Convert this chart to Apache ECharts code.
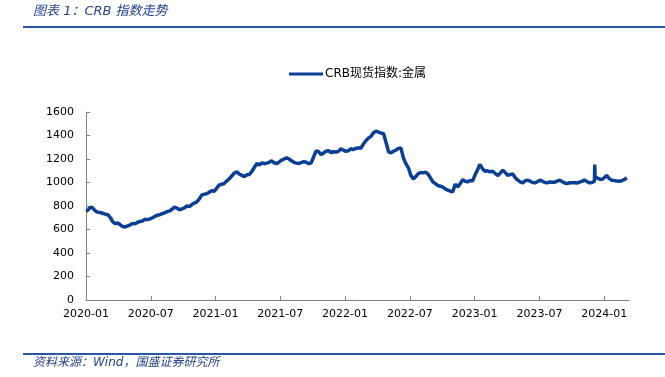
<!DOCTYPE html>
<html>
<head>
<meta charset="utf-8">
<script src="https://cdn.jsdelivr.net/npm/echarts@6/dist/echarts.min.js"></script>
<style>
  html, body { margin: 0; padding: 0; background: #fff; }
  #chart { width: 665px; height: 377px; }
</style>
</head>
<body>
<div id="chart"></div>
<script>
// CRB现货指数:金属, weekly readings
var dates = [
  "2020-01-02","2020-01-08","2020-01-14","2020-01-20","2020-01-27","2020-02-03","2020-02-10","2020-02-17","2020-02-24",
  "2020-03-02","2020-03-09","2020-03-16","2020-03-23","2020-03-30","2020-04-06","2020-04-13","2020-04-20","2020-04-27",
  "2020-05-04","2020-05-11","2020-05-18","2020-05-25","2020-06-01","2020-06-08","2020-06-15","2020-06-22","2020-06-29",
  "2020-07-06","2020-07-13","2020-07-20","2020-07-27","2020-08-03","2020-08-10","2020-08-17","2020-08-24","2020-08-31",
  "2020-09-07","2020-09-14","2020-09-21","2020-09-28","2020-10-05","2020-10-12","2020-10-19","2020-10-26","2020-11-02",
  "2020-11-09","2020-11-16","2020-11-23","2020-11-30","2020-12-07","2020-12-14","2020-12-21","2020-12-28",
  "2021-01-04","2021-01-11","2021-01-18","2021-01-25","2021-02-01","2021-02-08","2021-02-15","2021-02-22","2021-03-01",
  "2021-03-08","2021-03-15","2021-03-22","2021-03-29","2021-04-05","2021-04-12","2021-04-19","2021-04-26","2021-05-03",
  "2021-05-10","2021-05-17","2021-05-24","2021-05-31","2021-06-07","2021-06-14","2021-06-21","2021-06-28","2021-07-05",
  "2021-07-12","2021-07-19","2021-07-26","2021-08-02","2021-08-09","2021-08-16","2021-08-23","2021-08-30","2021-09-06",
  "2021-09-13","2021-09-20","2021-09-27","2021-10-04","2021-10-11","2021-10-18","2021-10-25","2021-11-01","2021-11-08",
  "2021-11-15","2021-11-22","2021-11-29","2021-12-06","2021-12-13","2021-12-20","2021-12-27",
  "2022-01-03","2022-01-10","2022-01-17","2022-01-24","2022-01-31","2022-02-07","2022-02-14","2022-02-21","2022-02-28",
  "2022-03-07","2022-03-14","2022-03-21","2022-03-28","2022-04-04","2022-04-11","2022-04-18","2022-04-25","2022-05-02",
  "2022-05-09","2022-05-16","2022-05-23","2022-05-30","2022-06-06","2022-06-13","2022-06-20","2022-06-27","2022-07-04",
  "2022-07-11","2022-07-18","2022-07-25","2022-08-01","2022-08-08","2022-08-15","2022-08-22","2022-08-29","2022-09-05",
  "2022-09-12","2022-09-19","2022-09-26","2022-10-03","2022-10-10","2022-10-17","2022-10-24","2022-10-31","2022-11-07",
  "2022-11-14","2022-11-21","2022-11-28","2022-12-05","2022-12-12","2022-12-19","2022-12-26",
  "2023-01-03","2023-01-09","2023-01-16","2023-01-23","2023-01-30","2023-02-06","2023-02-13","2023-02-20","2023-02-27",
  "2023-03-06","2023-03-13","2023-03-20","2023-03-27","2023-04-03","2023-04-10","2023-04-17","2023-04-24","2023-05-01",
  "2023-05-08","2023-05-15","2023-05-22","2023-05-29","2023-06-05","2023-06-12","2023-06-19","2023-06-26","2023-07-03",
  "2023-07-10","2023-07-17","2023-07-24","2023-07-31","2023-08-07","2023-08-14","2023-08-21","2023-08-28","2023-09-04",
  "2023-09-11","2023-09-18","2023-09-25","2023-10-02","2023-10-09","2023-10-16","2023-10-23","2023-10-30","2023-11-06",
  "2023-11-13","2023-11-20","2023-11-27","2023-12-04","2023-12-05","2023-12-06","2023-12-11","2023-12-18","2023-12-25",
  "2024-01-01","2024-01-08","2024-01-15","2024-01-22","2024-01-29","2024-02-05","2024-02-12","2024-02-19","2024-02-26",
  "2024-03-04"
];
var values = [
  755,770,790,785,760,748,745,738,730,
  725,700,665,650,655,640,625,622,630,
  640,652,648,662,668,672,688,684,690,
  700,712,722,726,735,742,752,758,772,
  790,782,768,775,785,800,795,812,825,
  835,860,895,900,905,918,930,925,
  950,978,985,990,1010,1030,1055,1082,1090,
  1070,1060,1050,1066,1068,1095,1130,1162,1150,
  1168,1160,1165,1172,1185,1168,1160,1175,1190,
  1200,1210,1200,1185,1172,1165,1162,1170,1178,
  1172,1160,1168,1220,1270,1262,1238,1250,1266,
  1270,1255,1262,1260,1265,1287,1275,
  1265,1270,1287,1280,1290,1295,1292,1330,1360,
  1380,1395,1425,1437,1428,1420,1417,1338,1260,
  1253,1266,1275,1290,1295,1210,1160,1125,1060,
  1031,1050,1075,1085,1082,1088,1072,1040,1005,
  990,974,968,960,945,935,926,920,985,
  963,990,1025,1010,1005,1018,1011,
  1070,1105,1153,1120,1096,1100,1090,1096,1075,
  1060,1080,1105,1085,1060,1068,1072,1040,1020,
  1005,997,1015,1020,1011,1000,997,1008,1020,
  1010,1000,997,1005,1003,1003,1012,1020,1008,
  995,991,998,997,1000,995,1003,1010,1020,
  1008,997,1000,1011,1153,1045,1040,1030,1025,
  1040,1060,1035,1020,1018,1012,1011,1015,1025,
  1040
];
var yTicks = { min: 0, max: 1600, step: 200 };
var seriesName = "CRB现货指数:金属";

// months since 2020-01
function monthPos(s) {
  var p = s.split("-").map(Number);
  var dim = new Date(p[0], p[1], 0).getDate();
  return (p[0] - 2020) * 12 + (p[1] - 1) + (p[2] - 1) / dim;
}
function monthLabel(v) {
  var y = 2020 + Math.floor(v / 12);
  var m = Math.round(v % 12) + 1;
  return y + "-" + (m < 10 ? "0" + m : m);
}

var points = dates.map(function (d, i) { return [monthPos(d), values[i]]; });

var chart = echarts.init(document.getElementById("chart"));
chart.setOption({
  animation: false,
  backgroundColor: "#fff",
  textStyle: { fontFamily: "DejaVu Sans, Noto Sans CJK SC" },
  graphic: [
    {
      type: "text", left: 33, top: 5,
      style: { text: "图表 1：CRB 指数走势", fill: "#24428c", font: "italic 13px 'DejaVu Sans', 'Noto Sans CJK SC'" }
    },
    { type: "rect", left: 23, top: 26, shape: { width: 642, height: 2 }, style: { fill: "#2a56a8" } },
    { type: "rect", left: 23, top: 353, shape: { width: 642, height: 2 }, style: { fill: "#2a56a8" } },
    {
      type: "text", left: 33, top: 357,
      style: { text: "资料来源：Wind，国盛证券研究所", fill: "#24428c", font: "italic 12px 'DejaVu Sans', 'Noto Sans CJK SC'" }
    }
  ],
  legend: {
    left: 284, top: 63,
    icon: "rect", itemWidth: 34, itemHeight: 3, itemGap: 4,
    textStyle: { fontSize: 12, color: "#000", fontFamily: "DejaVu Sans, Noto Sans CJK SC", padding: [0, 0, 0, -3] },
    data: [seriesName]
  },
  grid: { left: 86, right: 36, top: 112, bottom: 77 },
  xAxis: {
    type: "value",
    min: 0, max: 50.3, interval: 6,
    axisLine: { lineStyle: { color: "#808080" } },
    axisTick: { inside: true, length: 4, lineStyle: { color: "#808080" } },
    axisLabel: { color: "#000", fontSize: 11, margin: 9, showMaxLabel: false, formatter: monthLabel },
    splitLine: { show: false }
  },
  yAxis: {
    type: "value",
    min: yTicks.min, max: yTicks.max, interval: yTicks.step,
    axisLine: { show: true, lineStyle: { color: "#808080" } },
    axisTick: { show: true, inside: true, length: 4, lineStyle: { color: "#808080" } },
    axisLabel: { color: "#000", fontSize: 11, margin: 12, formatter: function (v) { return String(v); } },
    splitLine: { show: false }
  },
  series: [{
    name: seriesName,
    type: "line",
    data: points,
    showSymbol: false,
    color: "#0b3f96",
    lineStyle: { width: 3.5, color: "#0b3f96" }
  }]
});
</script>
</body>
</html>
